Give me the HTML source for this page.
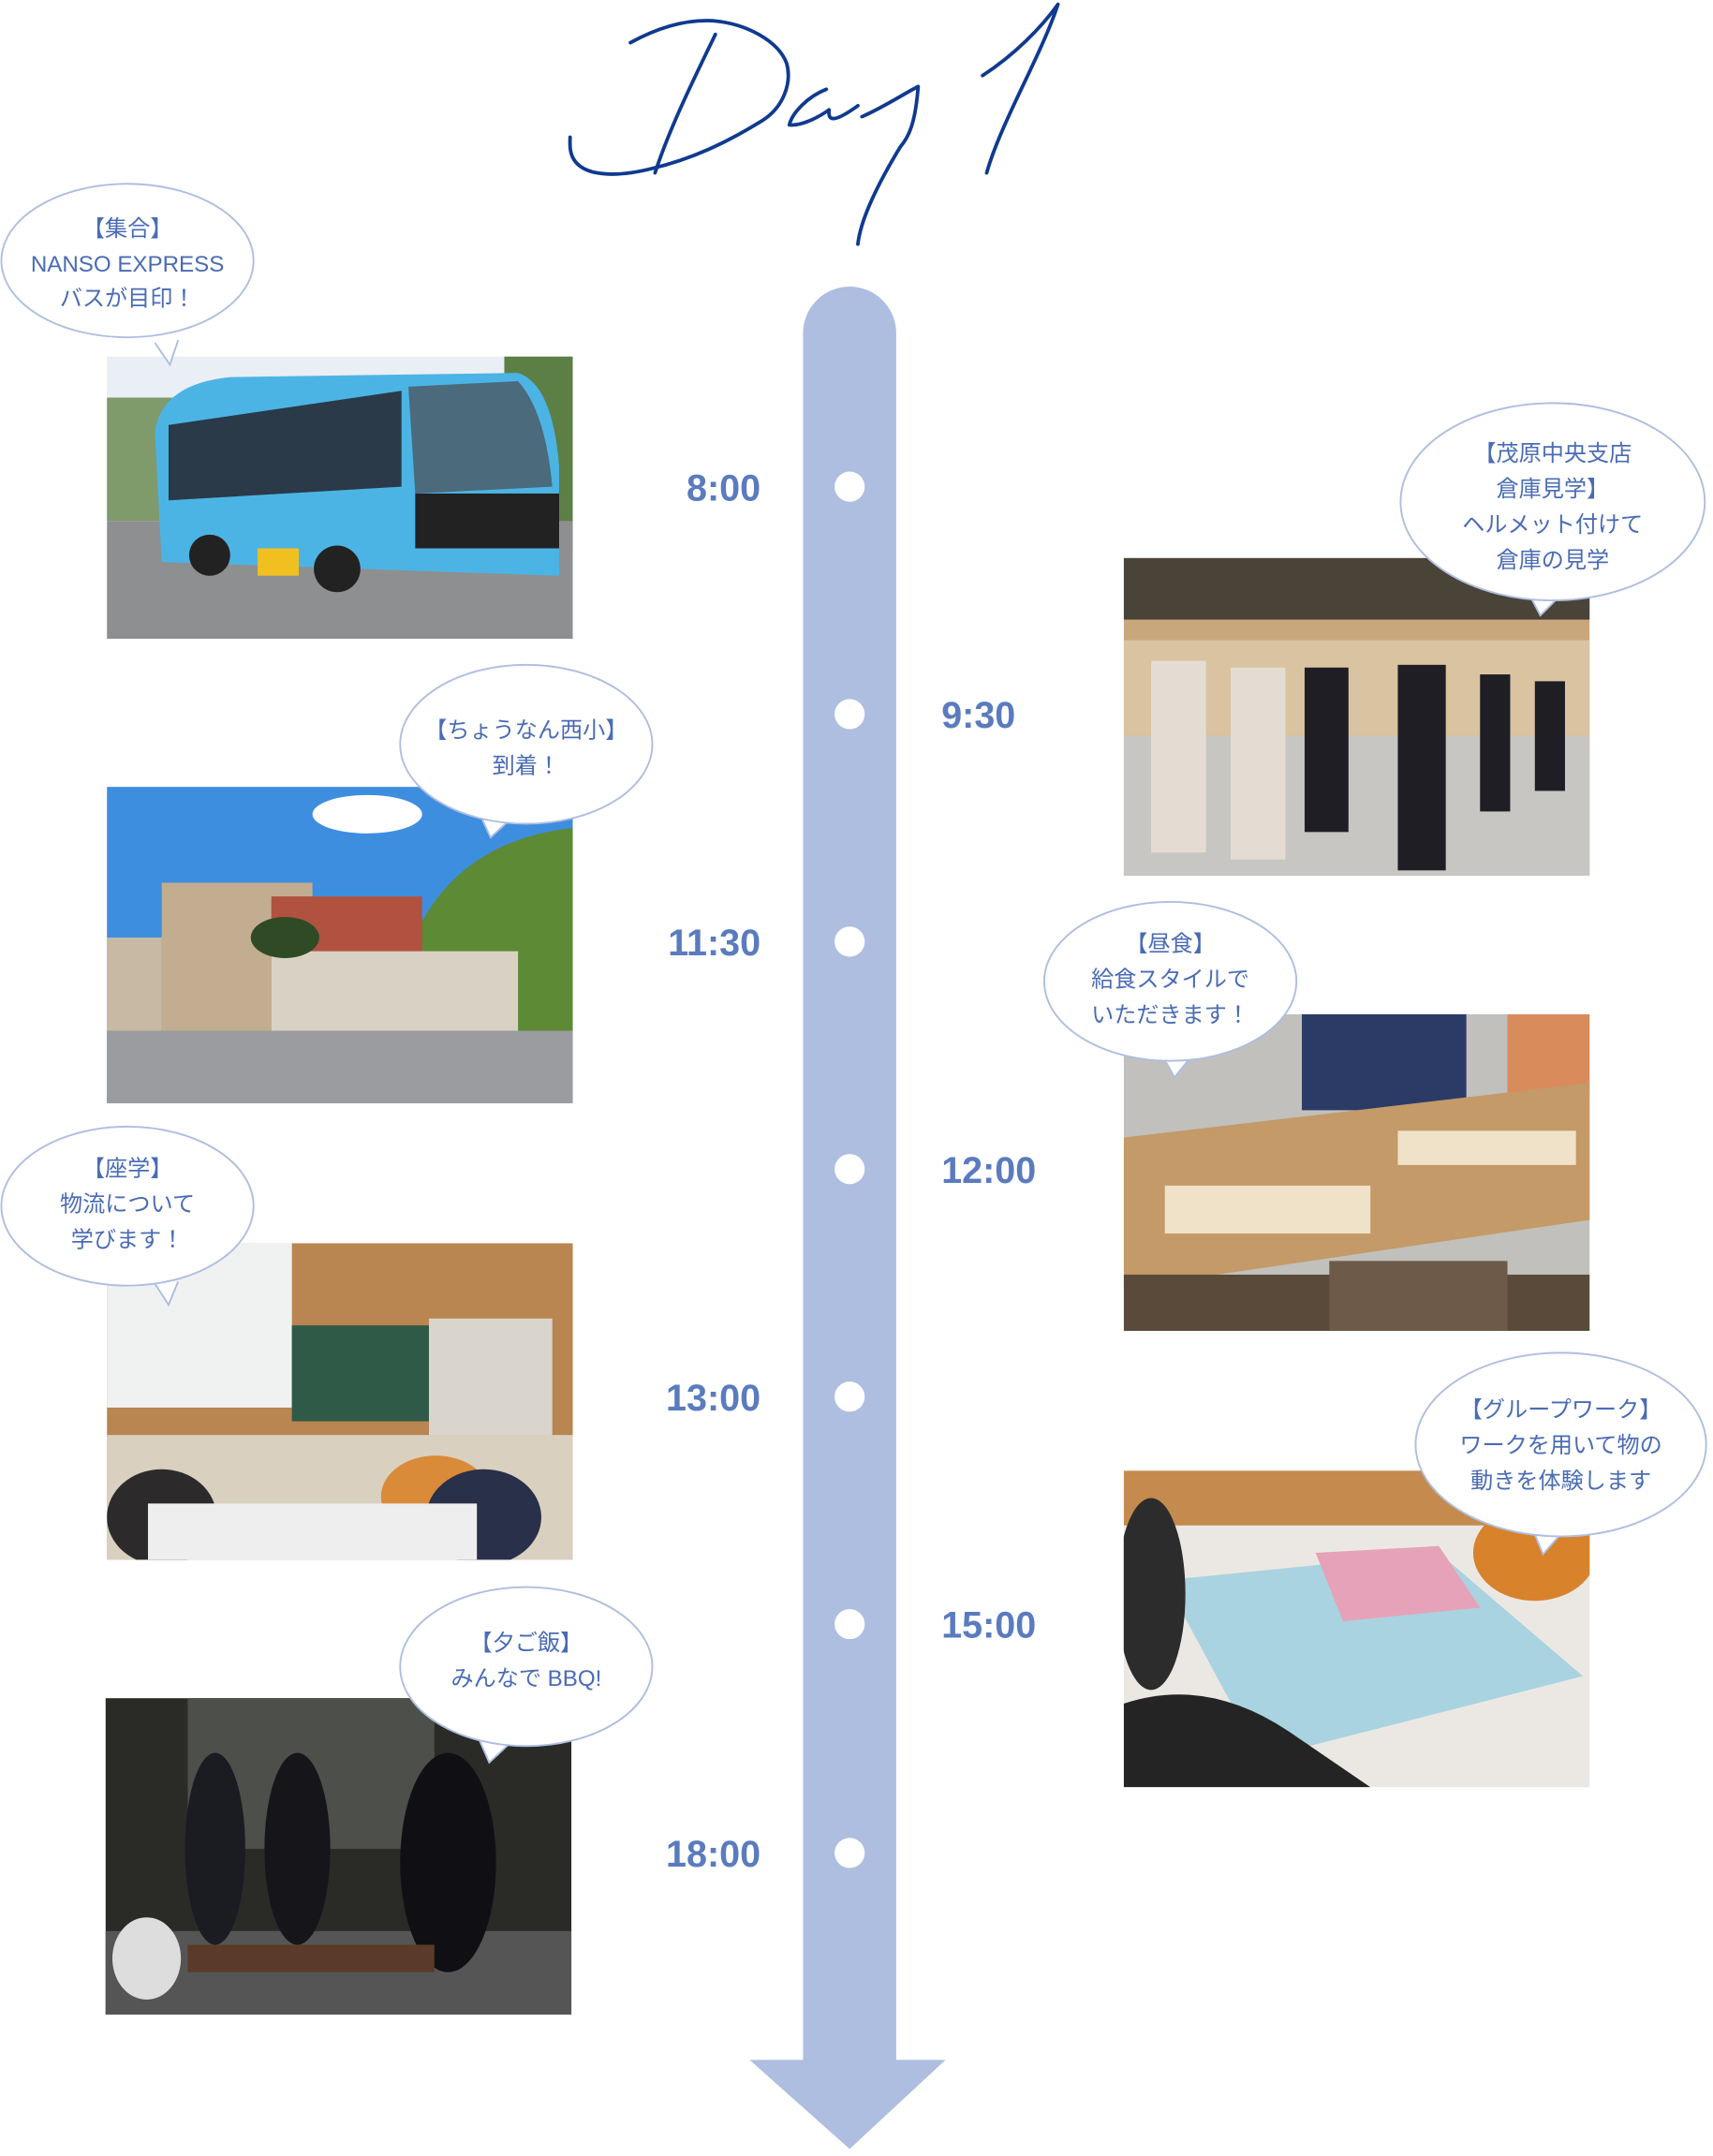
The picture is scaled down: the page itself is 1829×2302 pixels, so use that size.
<!DOCTYPE html>
<html><head><meta charset="utf-8"><style>
html,body{margin:0;padding:0;background:#fff;}
svg{display:block;}
.t{font-family:"Liberation Sans","Noto Sans CJK JP",sans-serif;font-weight:bold;font-size:27px;fill:#5b7bbf;}
.b{font-family:"Liberation Sans","Noto Sans CJK JP",sans-serif;font-size:16.5px;fill:#4a6cb5;text-anchor:middle;}
</style></head><body>
<svg width="1829" height="2302" viewBox="0 0 1250 1573" xmlns="http://www.w3.org/2000/svg">
<!-- Day 1 -->
<g fill="none" stroke="#0f3a8f" stroke-width="2.6" stroke-linecap="round" stroke-linejoin="round">
<path d="M460 31 C480 20 500 14 520 15 C545 17 568 30 574 46 C578 60 572 78 556 88 C530 104 505 116 475 123 C455 128 430 130 420 118 C415 112 416 104 416 100"/>
<path d="M522 25 C505 60 488 95 478 126"/>
<path d="M603 65 C590 70 578 82 576 91 C585 92 598 85 605 80 C604 88 608 90 626 77"/>
<path d="M629 85 C645 78 660 68 670 63 C668 90 663 100 657 107 C640 135 628 160 626 178"/>
<path d="M717 55 C740 40 760 20 772 3 C760 40 730 90 720 126"/>
</g>
<!-- timeline -->
<path d="M586 243 A34 34 0 0 1 654 243 L654 1503 L690 1503 L620 1568 L547 1503 L586 1503 Z" fill="#aebee0"/>
<g fill="#fff">
<circle cx="620" cy="355" r="11"/><circle cx="620" cy="521" r="11"/><circle cx="620" cy="687" r="11"/>
<circle cx="620" cy="853" r="11"/><circle cx="620" cy="1019" r="11"/><circle cx="620" cy="1185" r="11"/><circle cx="620" cy="1352" r="11"/>
</g>
<g class="t">
<text x="555" y="365" text-anchor="end">8:00</text>
<text x="687" y="531">9:30</text>
<text x="555" y="697" text-anchor="end">11:30</text>
<text x="687" y="863">12:00</text>
<text x="555" y="1029" text-anchor="end">13:00</text>
<text x="687" y="1195">15:00</text>
<text x="555" y="1362" text-anchor="end">18:00</text>
</g>
<!-- photo 1 bus -->
<svg x="78" y="260" width="340" height="206" viewBox="0 0 340 206">
<rect width="340" height="206" fill="#e9eff4"/>
<rect x="0" y="30" width="60" height="90" fill="#7f9a6b"/>
<rect x="290" y="0" width="50" height="140" fill="#5c7f45"/>
<rect y="120" width="340" height="86" fill="#8e8f90"/>
<path d="M35 55 Q40 20 90 15 L300 12 Q325 20 330 80 L330 160 L40 150 Z" fill="#4cb4e4"/>
<path d="M45 50 L215 25 L215 95 L45 105 Z" fill="#2a3a48"/>
<path d="M220 22 L300 18 Q320 40 325 95 L225 100 Z" fill="#4b6a7c"/>
<rect x="225" y="100" width="105" height="40" fill="#222"/>
<circle cx="75" cy="145" r="15" fill="#222"/><circle cx="168" cy="155" r="17" fill="#222"/>
<rect x="110" y="140" width="30" height="20" fill="#f0c020"/>
</svg>
<!-- photo 2 school -->
<svg x="78" y="574" width="340" height="231" viewBox="0 0 340 231">
<rect width="340" height="231" fill="#3e8ee0"/>
<ellipse cx="190" cy="20" rx="40" ry="14" fill="#fff"/>
<path d="M220 120 Q250 40 340 30 L340 180 L220 180 Z" fill="#5d8a35"/>
<rect x="40" y="70" width="110" height="110" fill="#c2ad90"/>
<rect x="120" y="80" width="110" height="100" fill="#b0523f"/>
<rect x="120" y="120" width="180" height="60" fill="#d9d2c4"/>
<rect x="0" y="110" width="40" height="70" fill="#c7b9a4"/>
<rect y="178" width="340" height="53" fill="#9a9ca0"/>
<ellipse cx="130" cy="110" rx="25" ry="15" fill="#2f4a24"/>
</svg>
<!-- photo 3 classroom -->
<svg x="78" y="907" width="340" height="231" viewBox="0 0 340 231">
<rect width="340" height="231" fill="#b98550"/>
<rect x="0" y="0" width="135" height="120" fill="#f0f2f2"/>
<rect x="135" y="60" width="100" height="70" fill="#2f5a47"/>
<rect x="235" y="55" width="90" height="90" fill="#d9d5cd"/>
<rect y="140" width="340" height="91" fill="#d9d0c0"/>
<ellipse cx="240" cy="185" rx="40" ry="30" fill="#d98b3a"/>
<ellipse cx="275" cy="200" rx="42" ry="35" fill="#29304a"/>
<ellipse cx="40" cy="200" rx="40" ry="35" fill="#2c2a2a"/>
<rect x="30" y="190" width="240" height="41" fill="#eee"/>
</svg>
<!-- photo 4 bbq -->
<svg x="77" y="1239" width="340" height="231" viewBox="0 0 340 231">
<rect width="340" height="231" fill="#2a2b27"/>
<rect x="60" y="0" width="180" height="110" fill="#4d4f4a"/>
<rect y="170" width="340" height="61" fill="#555"/>
<ellipse cx="80" cy="110" rx="22" ry="70" fill="#1b1b22"/>
<ellipse cx="140" cy="110" rx="24" ry="70" fill="#15151a"/>
<ellipse cx="250" cy="120" rx="35" ry="80" fill="#101014"/>
<rect x="60" y="180" width="180" height="20" fill="#5a3a28"/>
<ellipse cx="30" cy="190" rx="25" ry="30" fill="#ddd"/>
</svg>
<!-- photo 5 warehouse -->
<svg x="820" y="407" width="340" height="232" viewBox="0 0 340 232">
<rect width="340" height="232" fill="#c9a77c"/>
<rect width="340" height="45" fill="#4a4338"/>
<rect x="0" y="60" width="340" height="70" fill="#d9c3a0"/>
<rect y="130" width="340" height="102" fill="#c8c6c2"/>
<g fill="#e4dcd2"><rect x="20" y="75" width="40" height="140"/><rect x="78" y="80" width="40" height="140"/></g>
<g fill="#1e1e24"><rect x="132" y="80" width="32" height="120"/><rect x="200" y="78" width="35" height="150"/><rect x="260" y="85" width="22" height="100"/><rect x="300" y="90" width="22" height="80"/></g>
</svg>
<!-- photo 6 lunch -->
<svg x="820" y="740" width="340" height="231" viewBox="0 0 340 231">
<rect width="340" height="231" fill="#c1c0bc"/>
<rect x="130" y="0" width="120" height="70" fill="#2b3b66"/>
<rect x="280" y="0" width="60" height="60" fill="#d98b5c"/>
<path d="M0 90 L340 50 L340 150 L0 200 Z" fill="#c39a68"/>
<rect x="30" y="125" width="150" height="35" fill="#f0e2c8"/>
<rect x="200" y="85" width="130" height="25" fill="#f0e2c8"/>
<rect y="190" width="340" height="41" fill="#5a4a3a"/>
<rect x="150" y="180" width="130" height="51" fill="#6d5a48"/>
</svg>
<!-- photo 7 group work -->
<svg x="820" y="1073" width="340" height="231" viewBox="0 0 340 231">
<rect width="340" height="231" fill="#ebe8e4"/>
<rect x="0" y="0" width="340" height="40" fill="#c58a4e"/>
<path d="M30 80 L230 60 L335 150 L100 210 Z" fill="#a9d3e0"/>
<path d="M140 60 L230 55 L260 100 L160 110 Z" fill="#e6a2b9"/>
<ellipse cx="20" cy="90" rx="25" ry="70" fill="#2c2c2c"/>
<path d="M0 170 Q60 150 120 190 L180 231 L0 231 Z" fill="#242424"/>
<ellipse cx="300" cy="60" rx="45" ry="35" fill="#d9822c"/>
</svg>
<!-- bubbles -->
<g fill="#fff" stroke="#aebee0" stroke-width="1.3">
<path d="M113 250 L124 266 L130 248"/>
<ellipse cx="93" cy="190" rx="92" ry="56"/>
<path d="M352 598 L358 611 L372 598"/>
<ellipse cx="384" cy="543" rx="92" ry="58"/>
<path d="M1115 432 L1124 449 L1140 433"/>
<ellipse cx="1133" cy="366" rx="111" ry="72"/>
<path d="M847 768 L857 786 L870 770"/>
<ellipse cx="854" cy="716" rx="92" ry="58"/>
<path d="M112 935 L123 952 L130 935"/>
<ellipse cx="93" cy="880" rx="92" ry="58"/>
<path d="M1118 1115 L1126 1134 L1140 1118"/>
<ellipse cx="1139" cy="1054" rx="106" ry="67"/>
<path d="M350 1270 L357 1286 L372 1272"/>
<ellipse cx="384" cy="1216" rx="92" ry="58"/>
</g>
<!-- cover tail seams -->
<g class="b">
<text x="93" y="172">【集合】</text><text x="93" y="198">NANSO EXPRESS</text><text x="93" y="223">バスが目印！</text>
<text x="384" y="538">【ちょうなん西小】</text><text x="384" y="564">到着！</text>
<text x="1133" y="336">【茂原中央支店</text><text x="1133" y="362">倉庫見学】</text><text x="1133" y="388">ヘルメット付けて</text><text x="1133" y="414">倉庫の見学</text>
<text x="854" y="694">【昼食】</text><text x="854" y="720">給食スタイルで</text><text x="854" y="746">いただきます！</text>
<text x="93" y="858">【座学】</text><text x="93" y="884">物流について</text><text x="93" y="910">学びます！</text>
<text x="1139" y="1034">【グループワーク】</text><text x="1139" y="1060">ワークを用いて物の</text><text x="1139" y="1086">動きを体験します</text>
<text x="384" y="1204">【夕ご飯】</text><text x="384" y="1230">みんなで BBQ!</text>
</g>
</svg>
</body></html>
